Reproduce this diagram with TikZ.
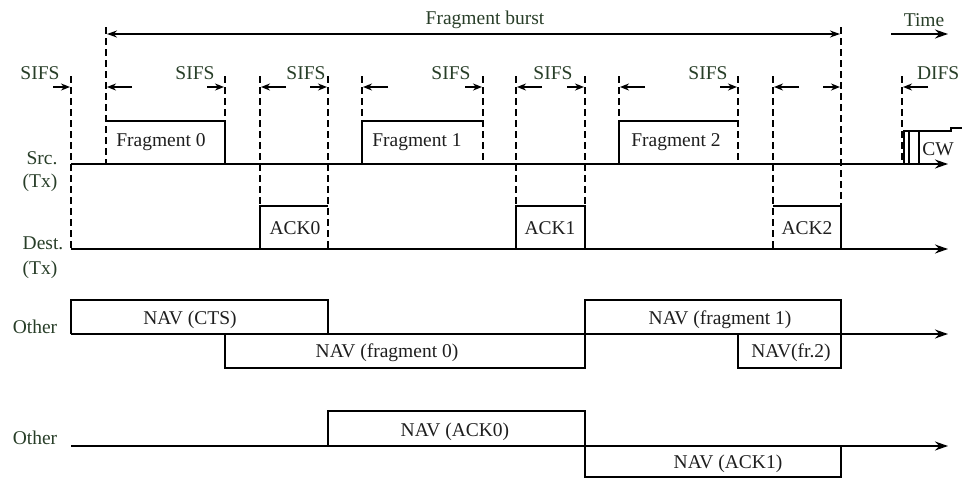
\documentclass[tikz,border=0pt]{standalone}
\usepackage{fontspec}
\setmainfont{Liberation Serif}
\usetikzlibrary{arrows.meta}
\definecolor{labgreen}{RGB}{40,62,40}
\definecolor{boxtext}{RGB}{30,30,30}
\begin{document}
\begin{tikzpicture}[x=1pt,y=-1pt,line width=1.4pt,
  dsh/.style={line width=1.2pt,dash pattern=on 7pt off 4pt},
  axis/.style={line width=1.4pt,-{Stealth[length=13pt,width=9pt]}},
  sifs/.style={line width=1.8pt,-{Stealth[length=9pt,width=7pt]}},
  both/.style={line width=1.4pt,{Stealth[length=10pt,width=7pt]}-{Stealth[length=10pt,width=7pt]}},
  side/.style={font=\fontsize{19.5}{19.5}\selectfont,text=labgreen,inner sep=0pt},
  boxlab/.style={font=\fontsize{19.5}{19.5}\selectfont,text=boxtext,inner sep=0pt}]
\useasboundingbox (0,0) rectangle (962,480);

% ---- top labels
\node[side] (burst) at (485,20) {Fragment burst};
\node[side] (time) at (924,20) {Time};
\draw[both] (107,34) -- (840,34);
\draw[axis] (891,34) -- (948,34);

% ---- SIFS / DIFS labels
\node[side] (s0) at (40,73) {SIFS};
\node[side] (s1) at (195,73) {SIFS};
\node[side] (s2) at (306,73) {SIFS};
\node[side] (s3) at (451,73) {SIFS};
\node[side] (s4) at (553,73) {SIFS};
\node[side] (s5) at (708,73) {SIFS};
\node[side,anchor=east] (difs) at (960,73) {DIFS};

% ---- side labels
\node[side] (src) at (42,158) {Src.};
\node[side] (srctx) at (40,183) {(Tx)};
\node[side] (dst) at (43,243) {Dest.};
\node[side] (dsttx) at (40,270) {(Tx)};
\node[side] (oth1) at (35,327) {Other};
\node[side] (oth2) at (35,438) {Other};

% ---- dashed vertical lines
\draw[dsh] (71,76) -- (71,249);
\draw[dsh] (106,27) -- (106,164);
\draw[dsh] (225,76) -- (225,121);
\draw[dsh] (260,76) -- (260,206);
\draw[dsh] (328,76) -- (328,249);
\draw[dsh] (362,76) -- (362,121);
\draw[dsh] (483,76) -- (483,164);
\draw[dsh] (516,76) -- (516,206);
\draw[dsh] (585,76) -- (585,206);
\draw[dsh] (619,76) -- (619,121);
\draw[dsh] (738,76) -- (738,164);
\draw[dsh] (773,76) -- (773,249);
\draw[dsh] (841,27) -- (841,206);
\draw[dsh] (902,76) -- (902,164);

% ---- SIFS arrows
\draw[sifs] (53,87) -- (70,87);
\draw[sifs] (132,87) -- (107,87);
\draw[sifs] (207,87) -- (224,87);
\draw[sifs] (286,87) -- (261,87);
\draw[sifs] (310,87) -- (327,87);
\draw[sifs] (388,87) -- (363,87);
\draw[sifs] (465,87) -- (482,87);
\draw[sifs] (542,87) -- (517,87);
\draw[sifs] (567,87) -- (584,87);
\draw[sifs] (645,87) -- (620,87);
\draw[sifs] (720,87) -- (737,87);
\draw[sifs] (799,87) -- (774,87);
\draw[sifs] (823,87) -- (840,87);
\draw[sifs] (928,87) -- (903,87);

% ---- Src line and fragments
\draw[axis] (71,164) -- (948,164);
\draw (106,121) -- (225,121) -- (225,164);
\draw (362,164) -- (362,121) -- (483,121);
\draw (619,164) -- (619,121) -- (738,121);
\node[boxlab] (f0) at (161,142) {Fragment 0};
\node[boxlab] (f1) at (417,142) {Fragment 1};
\node[boxlab] (f2) at (676,142) {Fragment 2};
% contention window
\draw (904,164) -- (904,131) -- (951,131) -- (951,128) -- (962,128);
\draw[line width=1.2pt] (909,131) -- (909,164);
\draw[line width=1.2pt] (919,131) -- (919,164);
\node[boxlab] (cw) at (938,149) {CW};

% ---- Dest line and ACKs
\draw[axis] (71,249) -- (948,249);
\draw (260,249) -- (260,206) -- (328,206);
\draw (516,249) -- (516,206) -- (585,206) -- (585,249);
\draw (773,206) -- (841,206) -- (841,249);
\node[boxlab] (a0) at (295,228) {ACK0};
\node[boxlab] (a1) at (550,228) {ACK1};
\node[boxlab] (a2) at (807,228) {ACK2};

% ---- Other (row 1)
\draw[axis] (71,334) -- (948,334);
\draw (71,334) -- (71,300) -- (328,300) -- (328,334);
\draw (225,334) -- (225,368) -- (585,368) -- (585,334);
\draw (585,334) -- (585,300) -- (841,300) -- (841,334);
\draw (738,334) -- (738,368) -- (841,368) -- (841,334);
\node[boxlab] (ncts) at (190,320) {NAV (CTS)};
\node[boxlab] (nf0) at (387,353) {NAV (fragment 0)};
\node[boxlab] (nf1) at (720,320) {NAV (fragment 1)};
\node[boxlab] (nf2) at (791,353) {NAV(fr.2)};

% ---- Other (row 2)
\draw[axis] (71,446) -- (948,446);
\draw (328,446) -- (328,411) -- (585,411) -- (585,446);
\draw (585,446) -- (585,477) -- (841,477) -- (841,446);
\node[boxlab] (na0) at (455,432) {NAV (ACK0)};
\node[boxlab] (na1) at (728,464) {NAV (ACK1)};
\end{tikzpicture}
\end{document}
